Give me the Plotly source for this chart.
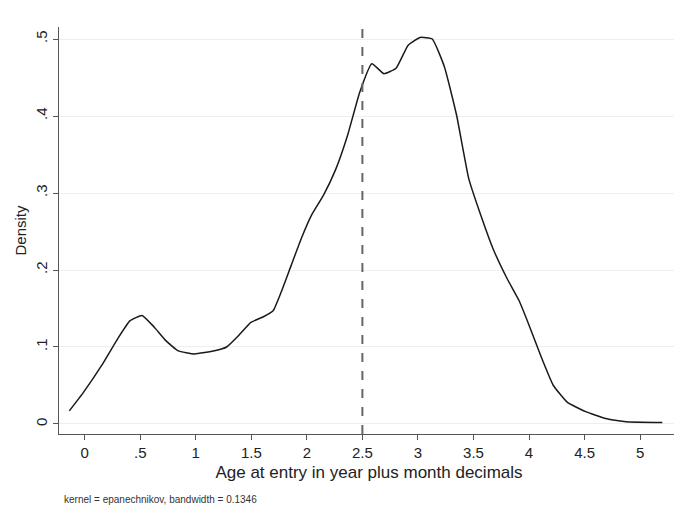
import plotly.graph_objects as go

age = [-0.138, -0.011, 0.153, 0.298, 0.407, 0.516, 0.625, 0.733, 0.842, 0.988,
       1.169, 1.278, 1.387, 1.496, 1.605, 1.696, 1.768, 1.859, 1.950, 2.041,
       2.149, 2.258, 2.367, 2.476, 2.585, 2.694, 2.803, 2.912, 3.020, 3.129,
       3.238, 3.348, 3.457, 3.566, 3.675, 3.802, 3.911, 4.001, 4.110, 4.219,
       4.346, 4.510, 4.691, 4.873, 5.200]
density = [0.017, 0.041, 0.076, 0.111, 0.134, 0.141, 0.126, 0.108, 0.095, 0.091,
           0.095, 0.100, 0.115, 0.132, 0.139, 0.147, 0.171, 0.206, 0.241, 0.271,
           0.297, 0.330, 0.375, 0.431, 0.468, 0.455, 0.462, 0.492, 0.502, 0.500,
           0.464, 0.401, 0.319, 0.271, 0.228, 0.189, 0.160, 0.128, 0.087, 0.050,
           0.028, 0.016, 0.007, 0.003, 0.002]

x_ticks = [0, 0.5, 1, 1.5, 2, 2.5, 3, 3.5, 4, 4.5, 5]
x_tick_labels = ["0", ".5", "1", "1.5", "2", "2.5", "3", "3.5", "4", "4.5", "5"]
y_ticks = [0, 0.1, 0.2, 0.3, 0.4, 0.5]
y_tick_labels = ["0", ".1", ".2", ".3", ".4", ".5"]
cutoff = 2.5

font = "Liberation Sans, Arial, sans-serif"

fig = go.Figure()
fig.add_trace(go.Scatter(x=age, y=density, mode="lines",
                         line=dict(color="#1a1a1a", width=1.5, shape="spline", smoothing=0.4),
                         showlegend=False, hoverinfo="skip"))

fig.add_shape(type="line", xref="x", yref="paper", x0=cutoff, x1=cutoff, y0=0, y1=1,
              line=dict(color="#666666", width=2, dash="dash"))

fig.add_annotation(text="kernel = epanechnikov, bandwidth = 0.1346",
                   xref="paper", yref="paper", x=0.005, y=-0.16,
                   xanchor="left", yanchor="middle", showarrow=False,
                   font=dict(family=font, size=10, color="#333333"))

fig.update_layout(
    width=682, height=515,
    margin=dict(l=51, r=11, t=19, b=89),
    paper_bgcolor="white", plot_bgcolor="white",
    font=dict(family=font, size=14, color="#222222"),
    xaxis=dict(range=[-0.231, 5.35], tickmode="array", tickvals=x_ticks,
               ticktext=x_tick_labels, ticks="outside", ticklen=5,
               tickcolor="#555555", showline=True, linecolor="#555555",
               linewidth=1, showgrid=False, zeroline=False, automargin=False,
               tickfont=dict(size=15),
               title=dict(text="Age at entry in year plus month decimals",
                          font=dict(size=17), standoff=6)),
    yaxis=dict(range=[-0.013, 0.5156], tickmode="array", tickvals=y_ticks,
               ticktext=y_tick_labels, tickangle=-90, ticks="outside", ticklen=5,
               tickcolor="#555555", showline=True, linecolor="#555555",
               linewidth=1, showgrid=True, gridcolor="#eeeeee", gridwidth=1,
               zeroline=False, automargin=False, tickfont=dict(size=15),
               title=dict(text="Density", font=dict(size=15), standoff=2)),
)

fig.write_html("out.html")
